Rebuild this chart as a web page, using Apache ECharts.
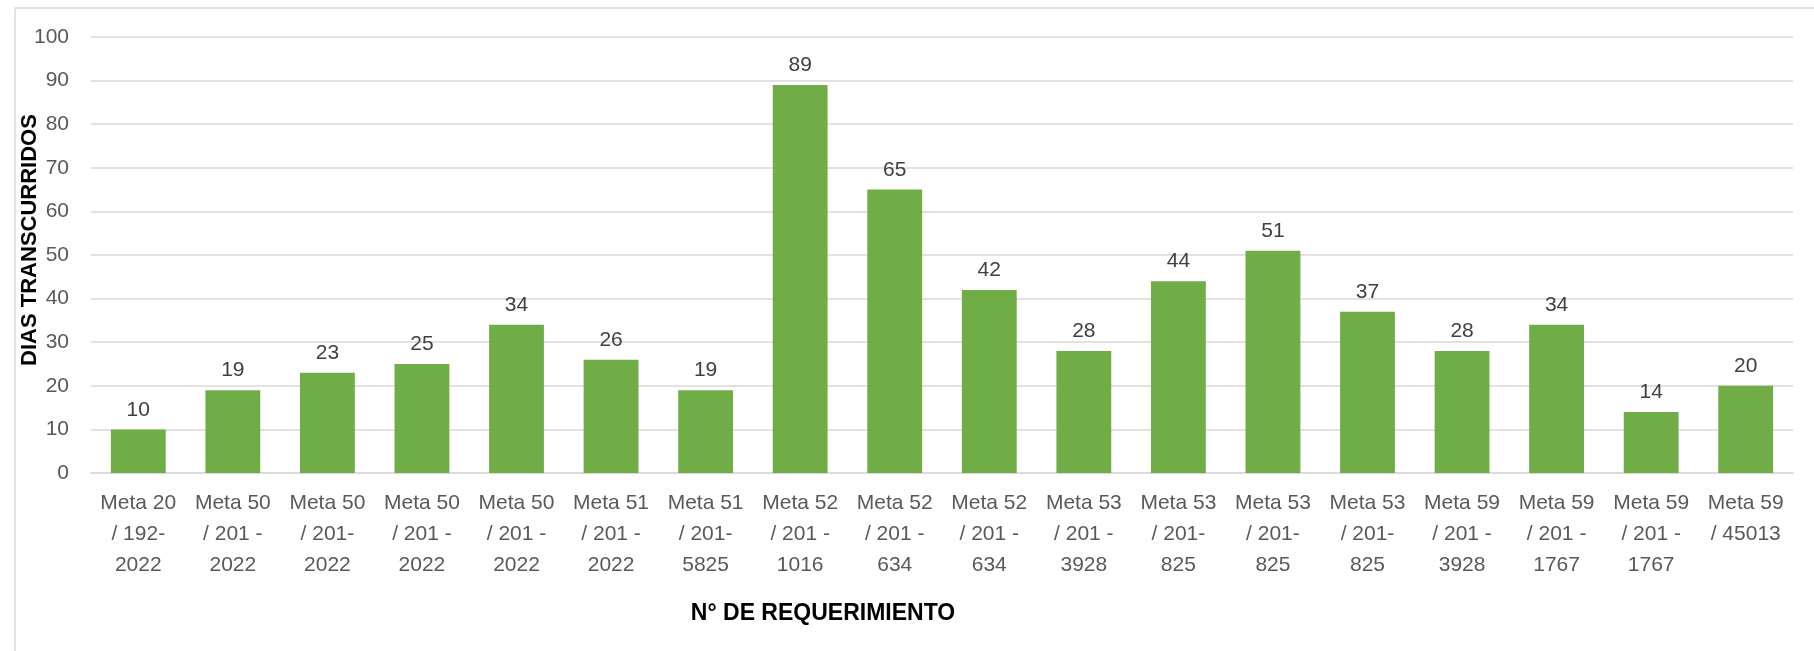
<!DOCTYPE html>
<html>
<head>
<meta charset="utf-8">
<script src="https://cdn.jsdelivr.net/npm/echarts@6/dist/echarts.min.js"></script>
<style>
  html, body { margin: 0; padding: 0; background: #fff; }
  #chart { width: 1814px; height: 651px; }
</style>
</head>
<body>
<div id="chart"></div>
<script>
// categorias (N° de requerimiento)
const categorias = [
    'Meta 20\n/ 192-\n2022', 'Meta 50\n/ 201 -\n2022', 'Meta 50\n/ 201-\n2022',
    'Meta 50\n/ 201 -\n2022', 'Meta 50\n/ 201 -\n2022', 'Meta 51\n/ 201 -\n2022',
    'Meta 51\n/ 201-\n5825', 'Meta 52\n/ 201 -\n1016', 'Meta 52\n/ 201 -\n634',
    'Meta 52\n/ 201 -\n634', 'Meta 53\n/ 201 -\n3928', 'Meta 53\n/ 201-\n825',
    'Meta 53\n/ 201-\n825', 'Meta 53\n/ 201-\n825', 'Meta 59\n/ 201 -\n3928',
    'Meta 59\n/ 201 -\n1767', 'Meta 59\n/ 201 -\n1767', 'Meta 59\n/ 45013'
];
// dias transcurridos
const dias = [10, 19, 23, 25, 34, 26, 19, 89, 65, 42, 28, 44, 51, 37, 28, 34, 14, 20];
const yMin = 0, yMax = 100, yPaso = 10;

const fuente = '"Liberation Sans", Arial, sans-serif';

const chart = echarts.init(document.getElementById('chart'));
chart.setOption({
    animation: false,
    textStyle: { fontFamily: fuente },
    graphic: [
        {
            type: 'rect',
            shape: { x: 15, y: 8, width: 2000, height: 1000 },
            style: { fill: 'none', stroke: '#d9d9d9', lineWidth: 1.5 },
            silent: true
        },
        {
            type: 'text',
            x: 30, y: 240, rotation: Math.PI / 2,
            style: {
                text: 'DIAS TRANSCURRIDOS', fill: '#000',
                font: 'bold 22px ' + fuente,
                textAlign: 'center', textVerticalAlign: 'middle'
            }
        },
        {
            type: 'text',
            x: 823, y: 614,
            style: {
                text: 'N° DE REQUERIMIENTO', fill: '#000',
                font: 'bold 23px ' + fuente,
                textAlign: 'center', textVerticalAlign: 'middle'
            }
        }
    ],
    grid: { left: 91, right: 21, top: 37, bottom: 178 },
    xAxis: {
        type: 'category',
        data: categorias,
        axisLine: { lineStyle: { color: '#d9d9d9', width: 1.5 } },
        axisTick: { show: false },
        axisLabel: {
            interval: 0, color: '#595959', fontSize: 21,
            lineHeight: 31, margin: 15
        }
    },
    yAxis: {
        type: 'value',
        min: yMin, max: yMax, interval: yPaso,
        axisLine: { show: false },
        axisTick: { show: false },
        axisLabel: { color: '#595959', fontSize: 21, margin: 22 },
        splitLine: { lineStyle: { color: '#d9d9d9', width: 1.5 } }
    },
    series: [{
        type: 'bar',
        data: dias,
        barWidth: '58%',
        itemStyle: { color: '#70ad47' },
        label: {
            show: true, position: 'top', distance: 9,
            color: '#404040', fontSize: 21
        }
    }]
});
</script>
</body>
</html>
